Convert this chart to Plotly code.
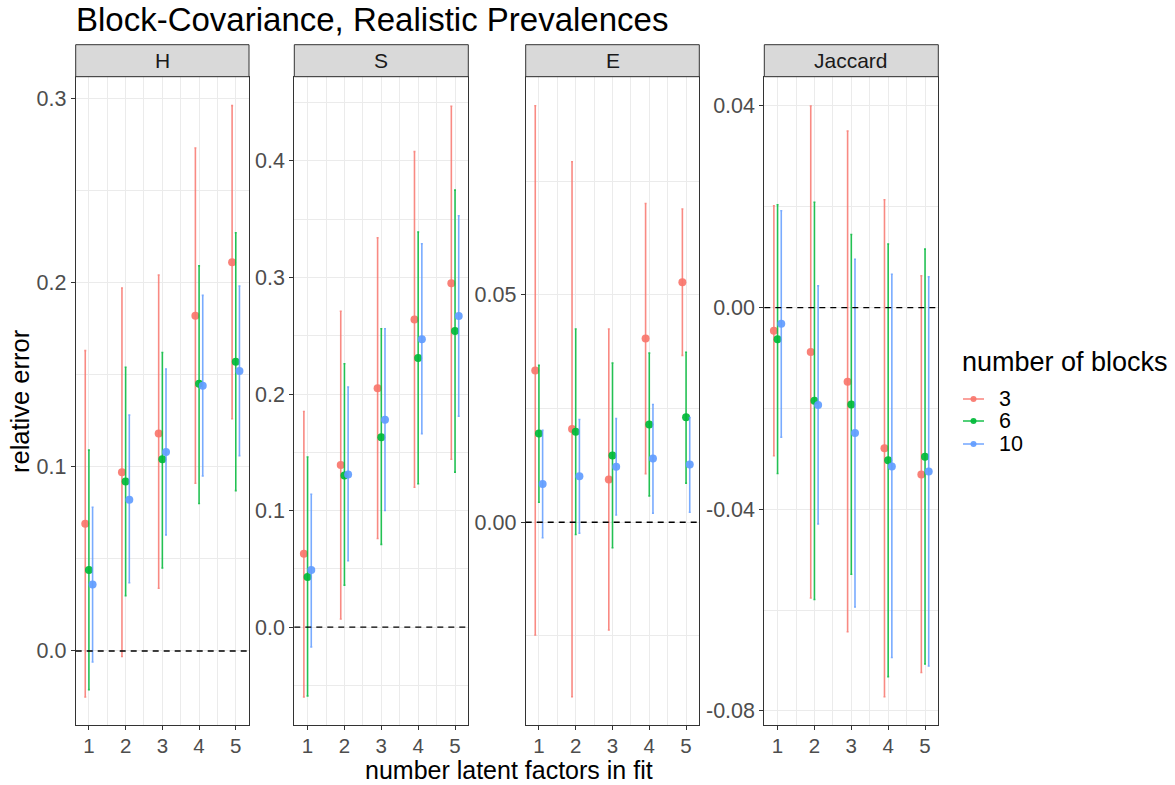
import plotly.graph_objects as go

# ---------------- data ----------------
factors = [1, 2, 3, 4, 5]
blocks = ["3", "6", "10"]
colors = ["#F8766D", "#00BA38", "#619CFF"]
panels = ["H", "S", "E", "Jaccard"]

# each list: one row per number of blocks (3, 6, 10), values for factors 1..5
H_est = [[0.069, 0.097, 0.118, 0.182, 0.211],
         [0.044, 0.092, 0.104, 0.145, 0.157],
         [0.036, 0.082, 0.108, 0.144, 0.152]]
H_lo = [[-0.025, -0.003, 0.034, 0.091, 0.126],
        [-0.021, 0.030, 0.045, 0.080, 0.087],
        [-0.006, 0.037, 0.063, 0.095, 0.106]]
H_hi = [[0.163, 0.197, 0.204, 0.273, 0.296],
        [0.109, 0.154, 0.162, 0.209, 0.227],
        [0.078, 0.128, 0.153, 0.193, 0.198]]

S_est = [[0.063, 0.139, 0.205, 0.264, 0.295],
         [0.043, 0.130, 0.163, 0.231, 0.254],
         [0.049, 0.131, 0.178, 0.247, 0.267]]
S_lo = [[-0.060, 0.007, 0.076, 0.120, 0.144],
        [-0.059, 0.036, 0.071, 0.123, 0.133],
        [-0.017, 0.057, 0.100, 0.166, 0.181]]
S_hi = [[0.185, 0.271, 0.334, 0.408, 0.447],
        [0.146, 0.226, 0.256, 0.339, 0.375],
        [0.114, 0.206, 0.256, 0.329, 0.353]]

E_est = [[0.0334, 0.0205, 0.0094, 0.0404, 0.0528],
         [0.0195, 0.0199, 0.0147, 0.0215, 0.0231],
         [0.0084, 0.0101, 0.0122, 0.0140, 0.0127]]
E_lo = [[-0.0248, -0.0384, -0.0237, 0.0107, 0.0367],
        [0.0044, -0.0027, -0.0056, 0.0058, 0.0086],
        [-0.0034, -0.0024, 0.0016, 0.0020, 0.0022]]
E_hi = [[0.0916, 0.0793, 0.0425, 0.0701, 0.0689],
        [0.0345, 0.0425, 0.0350, 0.0372, 0.0374],
        [0.0202, 0.0226, 0.0228, 0.0259, 0.0230]]

J_est = [[-0.0046, -0.0088, -0.0147, -0.0279, -0.0331],
         [-0.0063, -0.0185, -0.0192, -0.0303, -0.0296],
         [-0.0032, -0.0193, -0.0249, -0.0315, -0.0325]]
J_lo = [[-0.0294, -0.0576, -0.0643, -0.0772, -0.0724],
        [-0.0329, -0.0579, -0.0529, -0.0732, -0.0707],
        [-0.0257, -0.0429, -0.0594, -0.0694, -0.0711]]
J_hi = [[0.0202, 0.0400, 0.0350, 0.0214, 0.0063],
        [0.0204, 0.0209, 0.0145, 0.0126, 0.0116],
        [0.0192, 0.0043, 0.0096, 0.0066, 0.0061]]

H_ticks = [0.0, 0.1, 0.2, 0.3]
H_ticktext = ["0.0", "0.1", "0.2", "0.3"]
S_ticks = [0.0, 0.1, 0.2, 0.3, 0.4]
S_ticktext = ["0.0", "0.1", "0.2", "0.3", "0.4"]
E_ticks = [0.0, 0.05]
E_ticktext = ["0.00", "0.05"]
J_ticks = [-0.08, -0.04, 0.0, 0.04]
J_ticktext = ["-0.08", "-0.04", "0.00", "0.04"]

# ---------------- layout config ----------------
W, Hh = 1175, 785
FONT = "Liberation Sans, Arial, Helvetica, sans-serif"
panel_px = [(75.7, 249.0), (294.3, 468.3), (525.7, 699.3), (764.3, 938.3)]
plot_top, plot_bot = 76.7, 725.0
strip_top = 44.7
y_ranges = [(-0.0402, 0.3117), (-0.084, 0.4723), (-0.0446, 0.098), (-0.0828, 0.0458)]
y_minor = [(0.05, 0.1), (0.05, 0.1), (0.025, 0.05), (0.02, 0.04)]
x_range = [0.64, 5.36]
dodge = [-0.1, 0.0, 0.1]
TICK_SIZE = 21.5
XTICK_SIZE = 20.5

def rgba(hexc, a):
    h = hexc.lstrip("#")
    r, g, b = int(h[0:2], 16), int(h[2:4], 16), int(h[4:6], 16)
    return f"rgba({r},{g},{b},{a})"

def px_x(x):
    return x / W

def py(y):
    return (Hh - y) / Hh

data_sets = [(H_est, H_lo, H_hi), (S_est, S_lo, S_hi), (E_est, E_lo, E_hi), (J_est, J_lo, J_hi)]
tick_sets = [(H_ticks, H_ticktext), (S_ticks, S_ticktext), (E_ticks, E_ticktext), (J_ticks, J_ticktext)]

fig = go.Figure()
layout = {}
shapes = []
annotations = []

for p, name in enumerate(panels):
    est, lo, hi = data_sets[p]
    ax = "" if p == 0 else str(p + 1)
    for b in range(3):
        xs = [f + dodge[b] for f in factors]
        plus = [hi[b][i] - est[b][i] for i in range(5)]
        minus = [est[b][i] - lo[b][i] for i in range(5)]
        fig.add_trace(go.Scatter(
            x=xs, y=est[b], mode="markers", name=blocks[b],
            marker=dict(color=rgba(colors[b], 0.92), size=8),
            error_y=dict(type="data", symmetric=False, array=plus, arrayminus=minus,
                         color=rgba(colors[b], 0.85), thickness=1.6, width=1),
            xaxis="x" + ax, yaxis="y" + ax, showlegend=False, hoverinfo="x+y",
        ))
    x0, x1 = panel_px[p]
    tv, tt = tick_sets[p]
    layout["xaxis" + ax] = dict(
        domain=[x0 / W, x1 / W], anchor="y" + ax, range=x_range,
        tickmode="array", tickvals=factors, ticktext=[str(f) for f in factors],
        showgrid=True, gridcolor="#EBEBEB", gridwidth=1.1,
        minor=dict(tickmode="linear", tick0=0.5, dtick=1, showgrid=True,
                   gridcolor="#EBEBEB", gridwidth=0.6, ticks=""),
        showline=True, mirror=True, linecolor="#333333", linewidth=1,
        ticks="outside", ticklen=4, tickcolor="#333333", tickwidth=1,
        ticklabelstandoff=-2,
        tickfont=dict(size=XTICK_SIZE, color="#4D4D4D", family=FONT),
        zeroline=False, fixedrange=True,
    )
    mn, mj = y_minor[p]
    layout["yaxis" + ax] = dict(
        domain=[py(plot_bot), py(plot_top)], anchor="x" + ax, range=list(y_ranges[p]),
        tickmode="array", tickvals=tv, ticktext=tt,
        showgrid=True, gridcolor="#EBEBEB", gridwidth=1.1,
        minor=dict(tickmode="linear", tick0=mn, dtick=mj, showgrid=True,
                   gridcolor="#EBEBEB", gridwidth=0.6, ticks=""),
        showline=True, mirror=True, linecolor="#333333", linewidth=1,
        ticks="outside", ticklen=4, tickcolor="#333333", tickwidth=1,
        tickfont=dict(size=TICK_SIZE, color="#4D4D4D", family=FONT),
        zeroline=False, fixedrange=True,
    )
    # dashed zero line
    shapes.append(dict(type="line", xref=f"x{ax} domain", yref="y" + ax,
                       x0=0, x1=1, y0=0, y1=0,
                       line=dict(color="black", width=1.4, dash="6px,5px"), layer="above"))
    # strip
    shapes.append(dict(type="rect", xref="paper", yref="paper",
                       x0=x0 / W, x1=x1 / W, y0=py(plot_top), y1=py(strip_top),
                       fillcolor="#D9D9D9", line=dict(color="#333333", width=1), layer="above"))
    annotations.append(dict(text=name, xref="paper", yref="paper",
                            x=(x0 + x1) / 2 / W, y=py((plot_top + strip_top) / 2),
                            xanchor="center", yanchor="middle", showarrow=False,
                            font=dict(size=21, color="#1A1A1A", family=FONT)))

# ---------------- legend (drawn like ggplot's key) ----------------
leg_item_y = [399, 421, 444]
for b in range(3):
    yy = py(leg_item_y[b])
    shapes.append(dict(type="line", xref="paper", yref="paper",
                       x0=px_x(963), x1=px_x(984), y0=yy, y1=yy,
                       line=dict(color=rgba(colors[b], 0.85), width=1.6)))
    shapes.append(dict(type="circle", xref="paper", yref="paper",
                       x0=px_x(970.5), x1=px_x(976.5), y0=py(leg_item_y[b] + 3), y1=py(leg_item_y[b] - 3),
                       fillcolor=rgba(colors[b], 0.92), line=dict(width=0)))
    annotations.append(dict(text=blocks[b], xref="paper", yref="paper",
                            x=px_x(997), y=yy, xanchor="left", yanchor="middle", showarrow=False,
                            font=dict(size=TICK_SIZE, color="black", family=FONT)))
annotations.append(dict(text="number of blocks", xref="paper", yref="paper",
                        x=px_x(960), y=py(362), xanchor="left", yanchor="middle", showarrow=False,
                        font=dict(size=27, color="black", family=FONT)))

annotations.append(dict(text="Block-Covariance, Realistic Prevalences", xref="paper", yref="paper",
                        x=74 / W, y=py(20), xanchor="left", yanchor="middle", showarrow=False,
                        font=dict(size=33, color="black", family=FONT)))
annotations.append(dict(text="number latent factors in fit", xref="paper", yref="paper",
                        x=509 / W, y=0, xanchor="center", yanchor="bottom", showarrow=False,
                        borderpad=0,
                        font=dict(size=25, color="black", family=FONT)))
annotations.append(dict(text="relative error", xref="paper", yref="paper",
                        x=20 / W, y=py(401), xanchor="center", yanchor="middle", showarrow=False,
                        textangle=-90, font=dict(size=25.5, color="black", family=FONT)))

fig.update_layout(
    width=W, height=Hh, margin=dict(l=0, r=0, t=0, b=0),
    paper_bgcolor="white", plot_bgcolor="white",
    font=dict(family=FONT),
    shapes=shapes, annotations=annotations,
    showlegend=False,
    **layout,
)

fig.write_html("out.html")
